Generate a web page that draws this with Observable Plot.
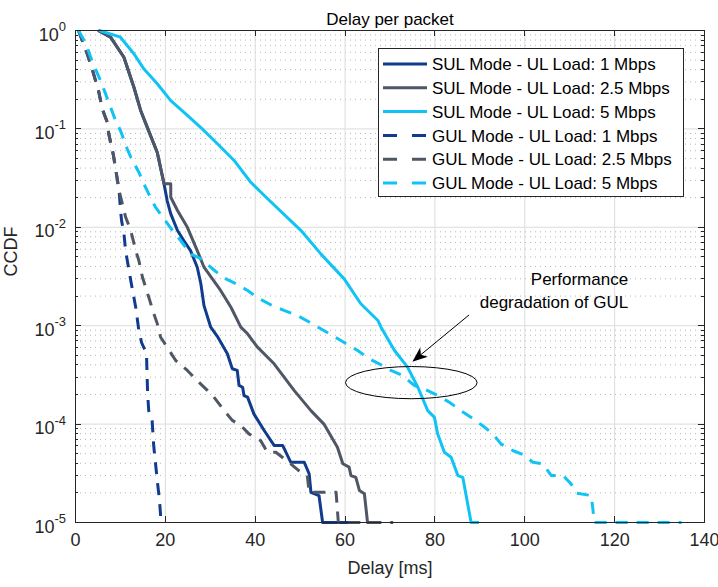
<!DOCTYPE html>
<html>
<head>
<meta charset="utf-8">
<script src="https://cdn.jsdelivr.net/npm/d3@7"></script>
<script src="https://cdn.jsdelivr.net/npm/@observablehq/plot@0.6"></script>
<style>
  html, body { margin: 0; padding: 0; background: #ffffff; }
  #chart svg { display: block; }
</style>
</head>
<body>
<div id="chart"></div>
<script>
// ---------- data ----------
const seriesNames = [
  "SUL Mode - UL Load: 1 Mbps",
  "SUL Mode - UL Load: 2.5 Mbps",
  "SUL Mode - UL Load: 5 Mbps",
  "GUL Mode - UL Load: 1 Mbps",
  "GUL Mode - UL Load: 2.5 Mbps",
  "GUL Mode - UL Load: 5 Mbps"
];
const seriesColors = ["#113c8e", "#4f5766", "#10c3f5", "#113c8e", "#4f5766", "#10c3f5"];
const seriesDashed = [false, false, false, true, true, true];

const sul1X = [5.05, 7.8, 10.77, 13.0, 14.5, 16.0, 18.2, 19.7, 20.4, 21.2, 22.7, 24.1, 25.6, 27.1, 27.9, 28.6, 30.1, 31.6, 33.8, 34.9, 36.0, 36.4, 37.2, 37.5, 38.3, 39.7, 42.0, 44.2, 46.1, 47.9, 50.9, 52.0, 52.4, 54.2, 55.0, 62.8];
const sul1Y = [1, 0.855, 0.535, 0.265, 0.154, 0.103, 0.0576, 0.0277, 0.0187, 0.0137, 0.00927, 0.00734, 0.0058, 0.00393, 0.00267, 0.0016, 0.000966, 0.000776, 0.000518, 0.000365, 0.000351, 0.000247, 0.000237, 0.000195, 0.000188, 0.000127, 8.6e-5, 6.07e-5, 6.07e-5, 4.1e-5, 4.1e-5, 3.13e-5, 2.03e-5, 1.88e-5, 1e-5, 1e-5];

const sul25X = [5.05, 7.8, 10.77, 13.0, 14.5, 16.0, 18.2, 19.7, 21.2, 21.2, 22.7, 24.9, 27.1, 28.6, 32.3, 34.6, 36.8, 38.3, 40.5, 44.2, 48.7, 52.4, 55.3, 58.3, 59.5, 60.9, 61.3, 62.4, 63.2, 64.3, 65.0, 66.9];
const sul25Y = [1, 0.855, 0.535, 0.265, 0.154, 0.103, 0.0576, 0.0277, 0.0277, 0.0202, 0.0148, 0.01, 0.0058, 0.00393, 0.00228, 0.00154, 0.000966, 0.000828, 0.000605, 0.00041, 0.000219, 0.000137, 0.0001, 5.82e-5, 3.95e-5, 3.65e-5, 3.0e-5, 2.88e-5, 2.11e-5, 1.96e-5, 1e-5, 1e-5];

const sul5X = [5.3, 10.0, 13.0, 15.2, 18.2, 21.2, 24.9, 27.9, 31.6, 35.3, 39.0, 42.7, 50.2, 54.6, 59.8, 63.5, 67.3, 68.0, 71.0, 73.9, 76.2, 78.4, 79.9, 80.6, 82.1, 83.6, 85.1, 86.2, 88.05, 89.8];
const sul5Y = [1, 0.855, 0.58, 0.408, 0.288, 0.194, 0.137, 0.103, 0.0706, 0.0478, 0.0287, 0.0196, 0.00927, 0.00537, 0.00299, 0.00167, 0.00113, 0.000966, 0.00056, 0.000379, 0.000237, 0.000137, 0.000117, 7.96e-5, 5.18e-5, 4.61e-5, 3.0e-5, 2.88e-5, 1e-5, 1e-5];

const gul1X = [0.67, 2.6, 3.7, 4.46, 5.2, 5.95, 7.07, 7.4, 8.45, 9.7, 10.0, 10.25, 10.75, 11.15, 12.3, 13.4, 14.1, 14.7, 15.8, 16.05, 16.3, 17.05, 17.4, 18.2, 18.7, 19.05];
const gul1Y = [1, 0.58, 0.408, 0.31, 0.236, 0.16, 0.117, 0.089, 0.0537, 0.0237, 0.0155, 0.0117, 0.0089, 0.0058, 0.00288, 0.00154, 0.000893, 0.000675, 0.000521, 0.000205, 0.000137, 0.000109, 6.07e-5, 2.67e-5, 1.67e-5, 1e-5];

const gul25X = [0.67, 2.6, 3.7, 4.46, 5.2, 5.95, 7.07, 7.4, 8.45, 9.7, 10.4, 11.15, 12.3, 13.4, 14.1, 14.9, 15.6, 16.3, 17.45, 18.2, 18.95, 20.4, 22.3, 24.9, 27.1, 29.4, 30.8, 33.1, 34.9, 36.8, 38.6, 41.2, 42.7, 44.6, 47.9, 49.7, 51.6, 52.0, 58.0, 58.5, 70.7];
const gul25Y = [1, 0.58, 0.408, 0.31, 0.236, 0.16, 0.117, 0.089, 0.0537, 0.0237, 0.0175, 0.0127, 0.00927, 0.0058, 0.0046, 0.00311, 0.00246, 0.00195, 0.00132, 0.00105, 0.000764, 0.000605, 0.000443, 0.000351, 0.000277, 0.000219, 0.000188, 0.000137, 0.000109, 9.7e-5, 7.96e-5, 6.8e-5, 5.18e-5, 5.18e-5, 3.95e-5, 3.37e-5, 3.0e-5, 2.03e-5, 2.03e-5, 1e-5, 1e-5];

const gul5X = [0.67, 2.2, 3.8, 5.57, 6.7, 7.8, 8.9, 10.0, 11.5, 12.3, 14.1, 15.2, 16.3, 17.8, 19.7, 21.6, 23.4, 25.6, 27.9, 30.5, 32.7, 35.7, 38.3, 40.9, 43.8, 46.4, 49.4, 52.0, 54.6, 57.2, 59.8, 62.8, 65.4, 67.6, 70.2, 72.8, 75.4, 78.4, 80.6, 83.2, 85.8, 88.4, 90.7, 92.9, 94.7, 97.3, 99.6, 101.8, 104.0, 105.9, 108.5, 110.3, 111.5, 114.8, 115.5, 134.9];
const gul5Y = [1, 0.755, 0.473, 0.31, 0.227, 0.166, 0.122, 0.0964, 0.0628, 0.0516, 0.0363, 0.0277, 0.0219, 0.016, 0.0122, 0.00927, 0.00734, 0.00538, 0.00479, 0.00379, 0.00311, 0.00267, 0.00228, 0.00188, 0.0016, 0.00143, 0.00127, 0.00109, 0.00093, 0.000794, 0.000675, 0.00056, 0.000461, 0.00041, 0.000351, 0.000312, 0.000247, 0.000219, 0.000195, 0.000167, 0.000137, 0.000114, 9.57e-5, 7.96e-5, 6.3e-5, 5.39e-5, 4.91e-5, 4.1e-5, 3.95e-5, 3.0e-5, 3.0e-5, 2.47e-5, 1.99e-5, 1.88e-5, 1e-5, 1e-5];

const xTicks = [0, 20, 40, 60, 80, 100, 120, 140];
const yDecades = [1e-5, 1e-4, 1e-3, 1e-2, 1e-1, 1];
const yExponents = ["-5", "-4", "-3", "-2", "-1", "0"];
const minorMultipliers = [2, 3, 4, 5, 6, 7, 8, 9];

const titleText = "Delay per packet";
const xLabel = "Delay [ms]";
const yLabel = "CCDF";

// annotation (data units)
const annotLines = ["Performance", "degradation of GUL"];
const annotX = [123.0, 123.0];
const annotY = [2.95e-3, 1.72e-3];
const arrowFrom = [87.7, 1.27e-3];
const arrowTo = [75.1, 4.26e-4];
const ellipseXRange = [60.2, 89.5];
const ellipseYRange = [3.8e-4, 1.79e-4];

// ---------- build ----------
const FONT = "'Liberation Sans', Arial, Helvetica, sans-serif";
const seriesX = [sul1X, sul25X, sul5X, gul1X, gul25X, gul5X];
const seriesY = [sul1Y, sul25Y, sul5Y, gul1Y, gul25Y, gul5Y];
const seriesRows = seriesX.map((xs, i) => xs.map((x, j) => ({x, y: seriesY[i][j], s: seriesNames[i]})));
const yMinor = yDecades.slice(0, -1).flatMap(d => minorMultipliers.map(m => d * m));
const annotRows = annotLines.map((t, i) => ({t, x: annotX[i], y: annotY[i]}));

function axesRender(index, scales, values, dim) {
  const g = d3.create("svg:g").attr("fill", "none").attr("stroke", "#262626").attr("stroke-width", 1);
  const x0 = dim.marginLeft, x1 = dim.width - dim.marginRight;
  const y0 = dim.marginTop, y1 = dim.height - dim.marginBottom;
  for (const t of xTicks) {
    const px = Math.round(scales.x(t)) + 0.5;
    g.append("line").attr("x1", px).attr("x2", px).attr("y1", y1).attr("y2", y1 - 6);
    g.append("line").attr("x1", px).attr("x2", px).attr("y1", y0).attr("y2", y0 + 6);
  }
  for (const t of yDecades) {
    const py = Math.round(scales.y(t)) + 0.5;
    g.append("line").attr("x1", x0).attr("x2", x0 + 6).attr("y1", py).attr("y2", py);
    g.append("line").attr("x1", x1).attr("x2", x1 - 6).attr("y1", py).attr("y2", py);
  }
  for (const t of yMinor) {
    const py = Math.round(scales.y(t)) + 0.5;
    g.append("line").attr("x1", x0).attr("x2", x0 + 3).attr("y1", py).attr("y2", py);
    g.append("line").attr("x1", x1).attr("x2", x1 - 3).attr("y1", py).attr("y2", py);
  }
  g.append("rect").attr("x", Math.round(x0) + 0.5).attr("y", Math.round(y0) + 0.5)
    .attr("width", Math.round(x1 - x0)).attr("height", Math.round(y1 - y0));
  return g.node();
}

function yLabelsRender(index, scales, values, dim) {
  const g = d3.create("svg:g").attr("fill", "#262626").attr("font-size", 18).attr("font-family", FONT);
  yDecades.forEach((v, i) => {
    const py = scales.y(v);
    const t = g.append("text").attr("x", dim.marginLeft - 9).attr("y", py + 10.5).attr("text-anchor", "end");
    t.append("tspan").text("10");
    t.append("tspan").attr("dy", -9.5).attr("font-size", 13).text(yExponents[i]);
  });
  return g.node();
}

function annotRender(index, scales, values, dim) {
  const g = d3.create("svg:g");
  const cx = (scales.x(ellipseXRange[0]) + scales.x(ellipseXRange[1])) / 2;
  const cy = (scales.y(ellipseYRange[0]) + scales.y(ellipseYRange[1])) / 2;
  const rx = Math.abs(scales.x(ellipseXRange[1]) - scales.x(ellipseXRange[0])) / 2;
  const ry = Math.abs(scales.y(ellipseYRange[1]) - scales.y(ellipseYRange[0])) / 2;
  g.append("ellipse").attr("cx", cx).attr("cy", cy).attr("rx", rx).attr("ry", ry)
    .attr("fill", "none").attr("stroke", "#000").attr("stroke-width", 1);
  const p1 = [scales.x(arrowFrom[0]), scales.y(arrowFrom[1])];
  const p2 = [scales.x(arrowTo[0]), scales.y(arrowTo[1])];
  const dx = p2[0] - p1[0], dy = p2[1] - p1[1], L = Math.hypot(dx, dy);
  const u = [dx / L, dy / L], n = [-u[1], u[0]];
  const hl = 15, hw = 6, notch = 11;
  const base = [p2[0] - u[0] * hl, p2[1] - u[1] * hl];
  const nb = [p2[0] - u[0] * notch, p2[1] - u[1] * notch];
  g.append("line").attr("x1", p1[0]).attr("y1", p1[1]).attr("x2", nb[0]).attr("y2", nb[1])
    .attr("stroke", "#000").attr("stroke-width", 1);
  g.append("path").attr("d",
    `M${p2[0]},${p2[1]}L${base[0] + n[0] * hw},${base[1] + n[1] * hw}L${nb[0]},${nb[1]}L${base[0] - n[0] * hw},${base[1] - n[1] * hw}Z`)
    .attr("fill", "#000").attr("stroke", "none");
  return g.node();
}

function legendRender(index, scales, values, dim) {
  const boxW = 305, boxH = 148, rowH = 23.8;
  const right = dim.width - dim.marginRight - 21;
  const left = Math.round(right - boxW);
  const top = dim.marginTop + 18;
  const g = d3.create("svg:g").attr("font-family", FONT).attr("text-anchor", "start");
  g.append("rect").attr("x", left + 0.5).attr("y", top + 0.5).attr("width", boxW).attr("height", boxH)
    .attr("fill", "#ffffff").attr("stroke", "#262626").attr("stroke-width", 1);
  seriesNames.forEach((name, i) => {
    const cy = top + 16 + i * rowH;
    g.append("line").attr("x1", left + 5).attr("x2", left + 49).attr("y1", cy).attr("y2", cy)
      .attr("stroke", seriesColors[i]).attr("stroke-width", 3)
      .attr("stroke-dasharray", seriesDashed[i] ? "14,15" : null);
    g.append("text").attr("x", left + 54).attr("y", cy).attr("dy", "0.36em")
      .attr("text-anchor", "start")
      .attr("font-size", 17).attr("fill", "#000").text(name);
  });
  return g.node();
}

const lineMarks = seriesRows.map((rows, i) => Plot.line(rows, {
  x: "x", y: "y",
  stroke: seriesColors[i],
  strokeWidth: 3,
  strokeLinejoin: "round",
  strokeLinecap: "butt",
  strokeDasharray: seriesDashed[i] ? "12,9" : undefined
}));

const chart = Plot.plot({
  width: 718,
  height: 587,
  marginLeft: 75,
  marginRight: 14,
  marginTop: 30,
  marginBottom: 65,
  style: {fontFamily: FONT, fontSize: "17px", color: "#262626", background: "#ffffff", overflow: "visible"},
  x: {type: "linear", domain: [0, 140], axis: null},
  y: {type: "log", domain: [1e-5, 1], axis: null},
  marks: [
    Plot.ruleY(yMinor, {stroke: "#b5b5b5", strokeWidth: 1, strokeDasharray: "1,4"}),
    Plot.ruleX(xTicks, {stroke: "#dcdcdc", strokeWidth: 1}),
    Plot.ruleY(yDecades, {stroke: "#dcdcdc", strokeWidth: 1}),
    ...lineMarks,
    annotRender,
    Plot.text(annotRows, {x: "x", y: "y", text: "t", textAnchor: "end", fontSize: 17, fill: "#000"}),
    legendRender,
    axesRender,
    yLabelsRender,
    Plot.text(xTicks, {x: d => d, frameAnchor: "bottom", dy: 23, fontSize: 18, fill: "#262626"}),
    Plot.text([titleText], {frameAnchor: "top", dy: -18, fontSize: 17, fill: "#000"}),
    Plot.text([xLabel], {frameAnchor: "bottom", dy: 51, fontSize: 18, fill: "#262626"}),
    Plot.text([yLabel], {frameAnchor: "left", dx: -64, rotate: -90, fontSize: 18, fill: "#262626"})
  ]
});
document.getElementById("chart").appendChild(chart);
</script>
</body>
</html>
